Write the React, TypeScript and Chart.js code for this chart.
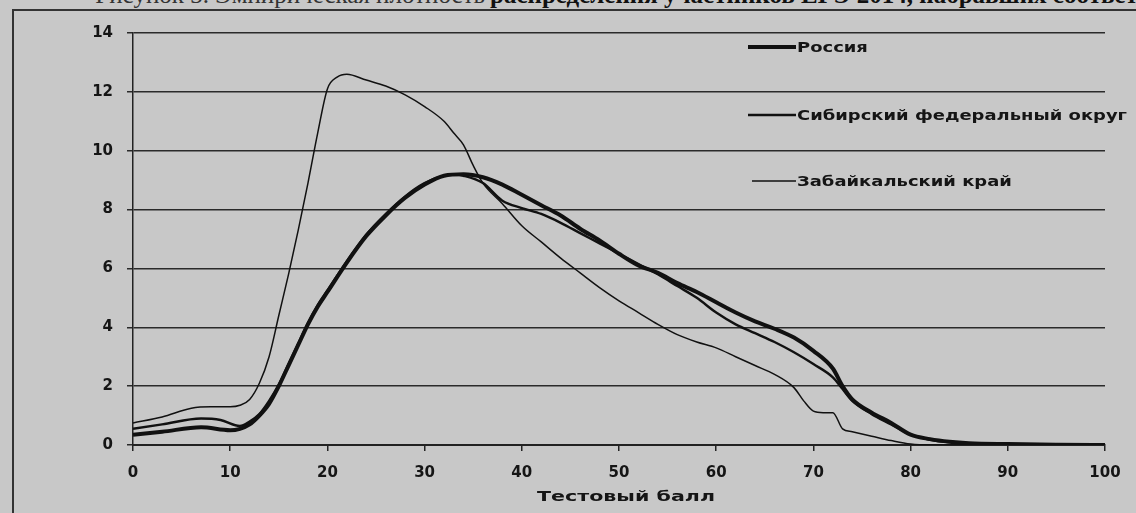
import React, { useEffect, useRef } from "react";
import { Chart, registerables } from "chart.js";

Chart.register(...registerables);

const seriesNames = ["Россия", "Сибирский федеральный округ", "Забайкальский край"];

const russiaX = [0, 3, 7, 10, 11, 12, 13, 14, 15, 16, 17, 18, 19, 20, 22, 24, 26, 28, 30, 32, 34, 36, 38, 40, 42, 44, 46, 48, 50, 52, 54, 56, 58, 60, 62, 64, 66, 68, 70, 72, 73, 74, 76, 78, 80, 82, 84, 86, 90, 95, 100];
const russiaY = [0.35, 0.45, 0.6, 0.5, 0.55, 0.7, 1.0, 1.4, 2.0, 2.7, 3.4, 4.1, 4.7, 5.2, 6.2, 7.1, 7.8, 8.4, 8.85, 9.15, 9.2, 9.1, 8.85, 8.5, 8.15, 7.8, 7.35, 6.95, 6.5, 6.1, 5.85, 5.5, 5.2, 4.85, 4.5, 4.2, 3.95, 3.65, 3.2, 2.6, 2.0, 1.55, 1.1, 0.75, 0.35, 0.2, 0.11, 0.06, 0.03, 0.01, 0];

const sfoX = [0, 3, 7, 9, 11, 12, 13, 14, 15, 16, 17, 18, 19, 20, 22, 24, 26, 28, 30, 32, 33, 34, 36, 38, 40, 42, 44, 46, 48, 50, 52, 54, 56, 58, 60, 62, 64, 66, 68, 70, 72, 73, 74, 76, 78, 80, 82, 84, 86, 90, 95, 100];
const sfoY = [0.55, 0.7, 0.9, 0.85, 0.65, 0.8, 1.05, 1.5, 2.05, 2.75, 3.45, 4.15, 4.75, 5.25, 6.25, 7.15, 7.85, 8.45, 8.9, 9.15, 9.2, 9.15, 8.9, 8.3, 8.05, 7.85, 7.55, 7.2, 6.85, 6.5, 6.15, 5.8, 5.4, 5.0, 4.5, 4.1, 3.8, 3.5, 3.15, 2.75, 2.3, 1.9, 1.5, 1.05, 0.7, 0.35, 0.18, 0.1, 0.06, 0.02, 0.01, 0];

const zabX = [0, 3, 6, 8, 10, 11, 12, 13, 14, 15, 16, 17, 18, 19, 20, 21, 22, 24, 26, 28, 30, 32, 33, 34, 35, 36, 38, 40, 42, 44, 46, 48, 50, 52, 54, 56, 58, 60, 62, 64, 66, 68, 69, 70, 71, 72, 73, 74, 76, 78, 80, 82, 100];
const zabY = [0.75, 0.95, 1.25, 1.3, 1.3, 1.35, 1.55, 2.1, 3.0, 4.4, 5.8, 7.3, 8.9, 10.6, 12.1, 12.5, 12.6, 12.4, 12.2, 11.9, 11.5, 11.0, 10.6, 10.2, 9.5, 8.9, 8.2, 7.45, 6.9, 6.35, 5.85, 5.35, 4.9, 4.5, 4.1, 3.75, 3.5, 3.3, 3.0, 2.7, 2.4, 1.95, 1.5, 1.15, 1.1, 1.1, 0.55, 0.45, 0.3, 0.15, 0.03, 0, 0];

const xTicks = [0, 10, 20, 30, 40, 50, 60, 70, 80, 90, 100];
const yTicks = [0, 2, 4, 6, 8, 10, 12, 14];
const xTitle = "Тестовый балл";
const headerLeft = "Рисунок 3. Эмпирическая плотность";
const headerRight = "распределения участников ЕГЭ 2014, набравших соответствующий балл";

const lineWidths = [4, 2.4, 1.5];

const toPoints = (xs: number[], ys: number[]) => xs.map((x, i) => ({ x, y: ys[i] }));

const stretchText = (ctx: any, text: string, x: number, y: number, sx: number, align: string) => {
  const w = ctx.measureText(text).width * sx;
  const left = align === "center" ? x - w / 2 : x;
  ctx.save();
  ctx.translate(left, y);
  ctx.scale(sx, 1);
  ctx.textAlign = "left";
  ctx.fillText(text, 0, 0);
  ctx.restore();
};

const textPlugin = {
  id: "customText",
  afterDraw(chart: any) {
    const ctx = chart.ctx;
    const rows = [47, 115, 181];
    ctx.save();
    ctx.font = "bold 14px 'DejaVu Sans'";
    ctx.textBaseline = "middle";
    ctx.fillStyle = "#151515";
    const sx = 330 / ctx.measureText(seriesNames[1]).width;
    seriesNames.forEach((name, i) => {
      ctx.strokeStyle = "#111";
      ctx.lineWidth = lineWidths[i];
      ctx.beginPath();
      ctx.moveTo(i === 2 ? 752 : 748, rows[i]);
      ctx.lineTo(796, rows[i]);
      ctx.stroke();
      stretchText(ctx, name, 797, rows[i] + 1, sx, "left");
    });
    ctx.font = "bold 14px 'DejaVu Sans'";
    const area = chart.chartArea;
    const tx = 178 / ctx.measureText(xTitle).width;
    stretchText(ctx, xTitle, (area.left + area.right) / 2 + 7, 497, tx, "center");
    ctx.restore();
  },
};

export default function App() {
  const ref = useRef<HTMLCanvasElement | null>(null);
  useEffect(() => {
    if (!ref.current) return;
    const tickFont = { family: "'DejaVu Sans'", weight: "bold", size: 15 };
    const chart = new Chart(ref.current, {
      type: "line",
      data: {
        datasets: [
          { label: seriesNames[0], data: toPoints(russiaX, russiaY), borderColor: "#111", borderWidth: lineWidths[0], pointRadius: 0, cubicInterpolationMode: "monotone", fill: false },
          { label: seriesNames[1], data: toPoints(sfoX, sfoY), borderColor: "#111", borderWidth: lineWidths[1], pointRadius: 0, cubicInterpolationMode: "monotone", fill: false },
          { label: seriesNames[2], data: toPoints(zabX, zabY), borderColor: "#111", borderWidth: lineWidths[2], pointRadius: 0, cubicInterpolationMode: "monotone", fill: false },
        ],
      },
      options: {
        animation: false,
        responsive: false,
        events: [],
        layout: { padding: { left: 0, right: 31, top: 33, bottom: 0 } },
        plugins: { legend: { display: false }, tooltip: { enabled: false } },
        scales: {
          x: {
            type: "linear",
            min: 0,
            max: 100,
            afterFit: (s: any) => { s.height = 68; },
            afterBuildTicks: (s: any) => { s.ticks = xTicks.map((v) => ({ value: v })); },
            ticks: { color: "#151515", font: tickFont, padding: 13, maxRotation: 0 },
            grid: { drawOnChartArea: false, drawTicks: true, tickLength: 6, color: "#222", lineWidth: 1.5 },
            border: { display: true, color: "#222", width: 2 },
          },
          y: {
            min: 0,
            max: 14,
            afterFit: (s: any) => { s.width = 133; },
            afterBuildTicks: (s: any) => { s.ticks = yTicks.map((v) => ({ value: v })); },
            ticks: { color: "#151515", font: tickFont, padding: 14 },
            grid: { drawOnChartArea: true, drawTicks: true, tickLength: 6, color: "#2a2a2a", lineWidth: 1.5 },
            border: { display: true, color: "#222", width: 1.5 },
          },
        },
      },
      plugins: [textPlugin],
    } as any);
    return () => chart.destroy();
  }, []);

  return (
    <div style={{ position: "absolute", left: 0, top: 0, width: 1136, height: 513, background: "#c8c8c8", overflow: "hidden" }}>
      <div style={{ position: "absolute", left: 0, top: 0, width: 1136, height: 8, overflow: "hidden" }}>
        <div style={{ position: "absolute", right: 651, top: -19, lineHeight: "25px", whiteSpace: "nowrap", font: "25px 'Liberation Serif'", color: "#333" }}>
          {headerLeft}
        </div>
        <div style={{ position: "absolute", left: 490, top: -19, lineHeight: "25px", whiteSpace: "nowrap", font: "bold 25px 'Liberation Serif'", color: "#111" }}>
          {headerRight}
        </div>
      </div>
      <div style={{ position: "absolute", left: 12, top: 9, width: 1140, height: 520, border: "2px solid #333", boxSizing: "border-box" }} />
      <canvas ref={ref} width={1136} height={513} style={{ position: "absolute", left: 0, top: 0 }} />
    </div>
  );
}
